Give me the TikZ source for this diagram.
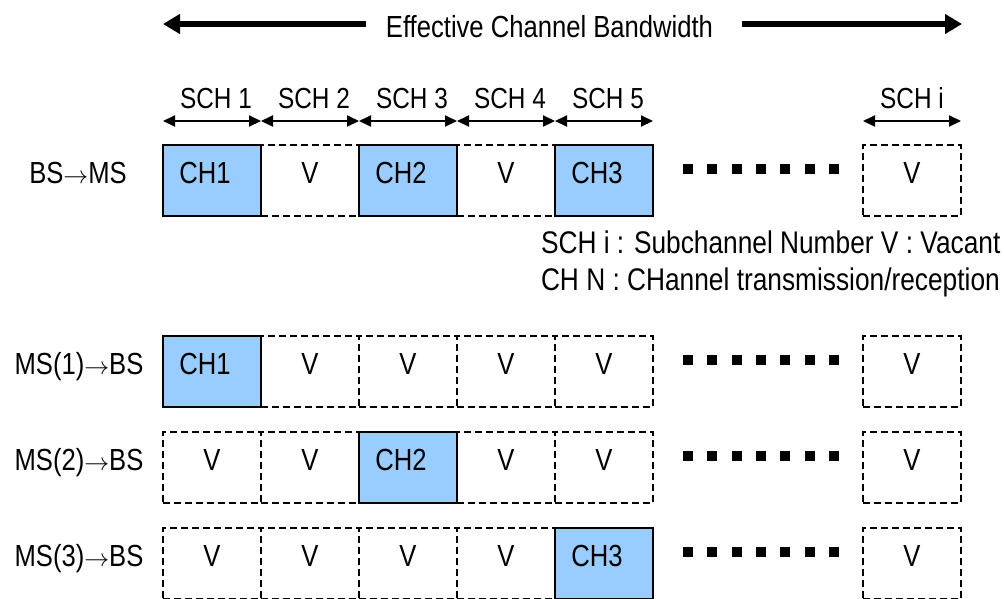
\documentclass[tikz,border=0pt]{standalone}
\usepackage{fontspec}
\setmainfont{Liberation Sans}[FakeStretch=0.84]
\usetikzlibrary{arrows.meta}
\definecolor{chblue}{HTML}{99CCFF}
\newcommand{\toarr}{\raisebox{0.5pt}{$\rightarrow$}}
\begin{document}
\begin{tikzpicture}[x=1pt,y=-1pt,
  every node/.style={font=\fontsize{30.5}{36}\selectfont, inner sep=0pt, outer sep=0pt},
  cell/.style={rectangle, minimum width=98pt, minimum height=71pt, text height=22pt, text depth=16pt},
  vcell/.style={cell, draw, line width=1.7pt, dash pattern=on 7pt off 4pt},
  chcell/.style={cell, draw, fill=chblue, line width=2.2pt},
  rowlabel/.style={anchor=base},
  schlabel/.style={anchor=base, font=\fontsize{29}{34}\selectfont},
  legend/.style={anchor=base west, font=\fontsize{31.3}{36}\selectfont},
  dotsq/.style={rectangle, fill=black, minimum width=10pt, minimum height=10pt},
  bigarrow/.style={line width=5.5pt, -{Triangle[length=17pt,width=19pt]}},
  scharrow/.style={line width=2pt, {Triangle[length=12pt,width=11pt]}-{Triangle[length=12pt,width=11pt]}}
]
\useasboundingbox (0,0) rectangle (1004,598);
\clip (0,0) rectangle (1004,598);

% title with arrows
\node[anchor=base] (title) at (549.5,37) {Effective Channel Bandwidth};
\coordinate (bwL) at (163,24);
\coordinate (bwLi) at (366,24);
\coordinate (bwRi) at (742,24);
\coordinate (bwR) at (962,24);
\draw[bigarrow] (bwLi) -- (bwL);
\draw[bigarrow] (bwRi) -- (bwR);

% subchannel labels and arrows
\foreach \k/\xa/\xb in {1/163/261, 2/261/359, 3/359/457, 4/457/555, 5/555/653} {
  \coordinate (sa\k) at (\xa,121);
  \coordinate (sb\k) at (\xb,121);
  \draw[scharrow] (sa\k) -- (sb\k);
  \node[schlabel] (sch\k) at ({(\xa+\xb)/2+4},108) {SCH \k};
}
\coordinate (sai) at (863,121);
\coordinate (sbi) at (961,121);
\draw[scharrow] (sai) -- (sbi);
\node[schlabel] (schi) at (912,108) {SCH i};

% row labels
\node[rowlabel] (lab0) at (78,183.5) {BS\toarr MS};
\node[rowlabel] (lab1) at (79,374.5) {MS(1)\toarr BS};
\node[rowlabel] (lab2) at (79,470.5) {MS(2)\toarr BS};
\node[rowlabel] (lab3) at (79,566.5) {MS(3)\toarr BS};

% row BS->MS (top 145)
\node[vcell] (r0c2) at (310,180.5) {V};
\node[vcell] (r0c4) at (506,180.5) {V};
\node[vcell] (r0ci) at (912,180.5) {V};
\node[chcell] (r0c1) at (212,180.5) {CH1\kern14pt};
\node[chcell] (r0c3) at (408,180.5) {CH2\kern14pt};
\node[chcell] (r0c5) at (604,180.5) {CH3\kern14pt};

% row MS(1) (top 336)
\node[vcell] (r1c2) at (310,371.5) {V};
\node[vcell] (r1c3) at (408,371.5) {V};
\node[vcell] (r1c4) at (506,371.5) {V};
\node[vcell] (r1c5) at (604,371.5) {V};
\node[vcell] (r1ci) at (912,371.5) {V};
\node[chcell] (r1c1) at (212,371.5) {CH1\kern14pt};

% row MS(2) (top 432)
\node[vcell] (r2c1) at (212,467.5) {V};
\node[vcell] (r2c2) at (310,467.5) {V};
\node[vcell] (r2c4) at (506,467.5) {V};
\node[vcell] (r2c5) at (604,467.5) {V};
\node[vcell] (r2ci) at (912,467.5) {V};
\node[chcell] (r2c3) at (408,467.5) {CH2\kern14pt};

% row MS(3) (top 528)
\node[vcell] (r3c1) at (212,563.5) {V};
\node[vcell] (r3c2) at (310,563.5) {V};
\node[vcell] (r3c3) at (408,563.5) {V};
\node[vcell] (r3c4) at (506,563.5) {V};
\node[vcell] (r3ci) at (912,563.5) {V};
\node[chcell] (r3c5) at (604,563.5) {CH3\kern14pt};

% dots
\foreach \r/\y in {0/168.5, 1/359.5, 2/455.5, 3/551.5} {
  \foreach \k in {0,...,6} {
    \node[dotsq] (d\r\k) at ({688+24.3*\k},\y) {};
  }
}

% legend
\node[legend] (leg1) at (541,253) {SCH i : Subchannel Number V : Vacant};
\node[legend] (leg2) at (541,290) {CH N : CHannel transmission/reception};
\end{tikzpicture}
\end{document}
